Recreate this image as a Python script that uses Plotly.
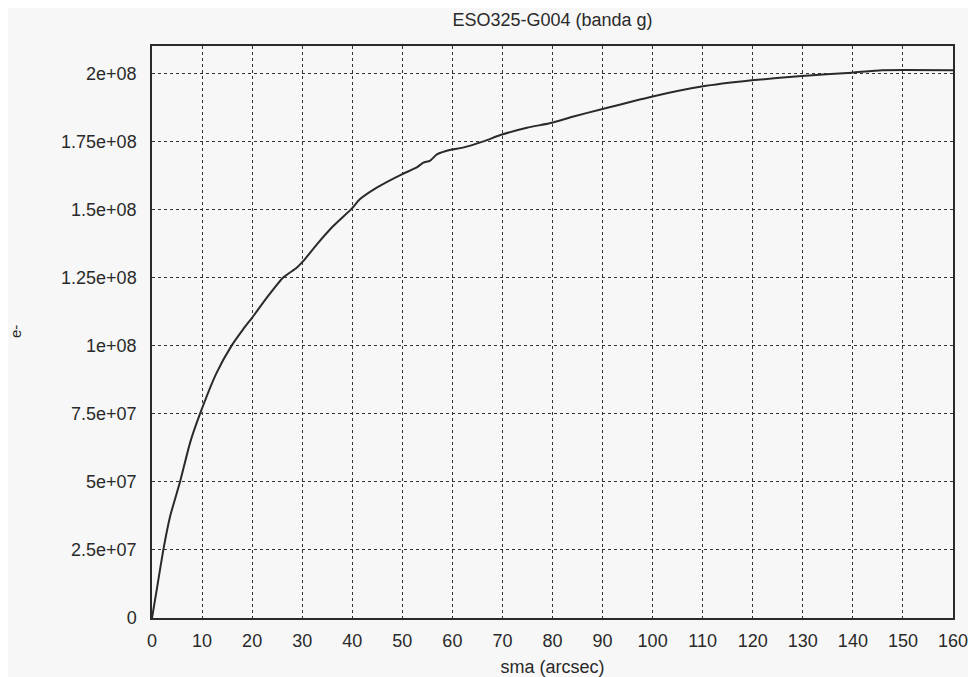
import plotly.graph_objects as go

# Curve of growth (sma in arcsec, e- counts)
sma = [0, 1, 2.26, 3.6, 5.6, 7.6, 9.6, 12.9, 15.9, 18.2, 19.9, 22.9, 26.2, 28.9,
       30.2, 32.9, 36.2, 39.9, 41.5, 44.9, 49.9, 52.9, 54.2, 55.5, 56.9, 59.9,
       61.9, 66.2, 69.9, 74.9, 79.9, 84.0, 89.8, 99.8, 109.8, 119.8, 129.8,
       139.8, 145.8, 160]
flux = [0, 1.1e7, 2.5e7, 3.72e7, 5.0e7, 6.43e7, 7.5e7, 9.0e7, 1.0e8, 1.06e8,
        1.1e8, 1.175e8, 1.25e8, 1.286e8, 1.31e8, 1.371e8, 1.439e8, 1.503e8,
        1.537e8, 1.58e8, 1.629e8, 1.654e8, 1.672e8, 1.678e8, 1.702e8, 1.72e8,
        1.726e8, 1.75e8, 1.775e8, 1.8e8, 1.818e8, 1.84e8, 1.868e8, 1.914e8,
        1.951e8, 1.974e8, 1.99e8, 2.002e8, 2.011e8, 2.011e8]

x_ticks = [0, 10, 20, 30, 40, 50, 60, 70, 80, 90, 100, 110, 120, 130, 140, 150, 160]
y_ticks = [0, 2.5e7, 5e7, 7.5e7, 1e8, 1.25e8, 1.5e8, 1.75e8, 2e8]
y_tick_labels = ["0", "2.5e+07", "5e+07", "7.5e+07", "1e+08", "1.25e+08",
                 "1.5e+08", "1.75e+08", "2e+08"]

title_text = "ESO325-G004 (banda g)"
x_title = "sma (arcsec)"
y_title = "e-"

# page body has an 8px margin; figure sized to fit the 976x677 window
OFF = 8
W, H = 976 - OFF, 677 - OFF
L, R, T, B = 152 - OFF, 23, 46 - OFF, 59

fig = go.Figure()
fig.add_trace(go.Scatter(x=sma, y=flux, mode="lines",
                         line=dict(color="#2a2a2a", width=2, shape="spline", smoothing=0.5),
                         showlegend=False))

font = dict(family="Liberation Sans, Arial, sans-serif", size=18, color="#2a2a2a")
axis_style = dict(showgrid=True, gridcolor="#333333", gridwidth=1, griddash="dot",
                  showline=True, linecolor="#2a2a2a", linewidth=1.5, mirror=True,
                  zeroline=False, ticks="", tickfont=font, automargin=False)

fig.update_layout(
    width=W, height=H,
    margin=dict(l=L, r=R, t=T, b=B, autoexpand=False),
    paper_bgcolor="#f7f7f7", plot_bgcolor="#f7f7f7",
    font=font,
    title=dict(text=title_text, x=(L + (W - R)) / 2 / W, xanchor="center",
               y=1 - (20 - OFF) / H, yanchor="middle", automargin=False,
               font=dict(family=font["family"], size=18, color="#2a2a2a")),
    xaxis=dict(range=[0, 160], tickvals=x_ticks, ticklabelstandoff=6,
               title=dict(text=x_title, standoff=10, font=font), **axis_style),
    yaxis=dict(range=[0, 2.1e8], tickvals=y_ticks, ticktext=y_tick_labels,
               ticklabelstandoff=10, **axis_style),
    annotations=[dict(text=y_title, xref="paper", yref="paper",
                      x=-(L - (15 - OFF)) / (W - L - R), y=0.5, xanchor="center", yanchor="middle",
                      textangle=-90, showarrow=False,
                      font=dict(family=font["family"], size=15, color="#2a2a2a"))],
)

fig.write_html("out.html")
